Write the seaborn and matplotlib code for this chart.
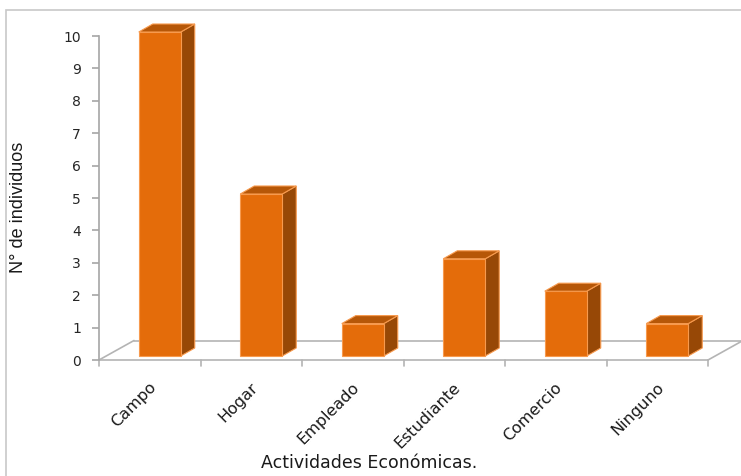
import matplotlib
matplotlib.use("Agg")
import matplotlib.pyplot as plt
from matplotlib.patches import Polygon, Rectangle
import seaborn as sns
import pandas as pd

actividades = ["Campo", "Hogar", "Empleado", "Estudiante", "Comercio", "Ninguno"]
individuos = [10, 5, 1, 3, 2, 1]
y_ticks = list(range(0, 11))

FRONT = "#E46C0A"
TOP = "#B65708"
SIDE = "#974806"
EDGE = "#F79A4E"
AXIS_GRAY = "#A6A6A6"

sns.set_style("white")
plt.rcParams["font.family"] = ["DejaVu Sans"]

W, H = 741, 476
fig = plt.figure(figsize=(W / 100, H / 100), dpi=100)

# plot area in pixel terms: x=-0.5 at px 99, 101.5 px per category;
# y=0 at py 360, 32.4 px per unit
px_per_x, px_per_y = 101.5, 32.4
left_px, right_px, top_py, bot_py = 99, 740, 20, 370
ax = fig.add_axes([left_px / W, 1 - bot_py / H,
                   (right_px - left_px) / W, (bot_py - top_py) / H])
x_lo = -0.5
x_hi = x_lo + (right_px - left_px) / px_per_x
y_lo = (360 - bot_py) / px_per_y
y_hi = (360 - top_py) / px_per_y

df = pd.DataFrame({"actividad": actividades, "n": individuos})
sns.barplot(data=df, x="actividad", y="n", color=FRONT, saturation=1,
            width=42 / px_per_x, ax=ax, zorder=3)
ax.set_xlim(x_lo, x_hi)
ax.set_ylim(y_lo, y_hi)

# bars sit inside the 3D floor: shift front faces back, then add side/top
shift_x, shift_y = 10 / px_per_x, 4 / px_per_y
dep_x, dep_y = 14 / px_per_x, 8 / px_per_y
for p in ax.patches:
    p.set_x(p.get_x() + shift_x)
    p.set_y(p.get_y() + shift_y)
    p.set_edgecolor(EDGE)
    p.set_linewidth(0.8)
    x0 = p.get_x()
    x1 = x0 + p.get_width()
    y0 = p.get_y()
    y1 = y0 + p.get_height()
    side = Polygon([(x1, y0), (x1 + dep_x, y0 + dep_y), (x1 + dep_x, y1 + dep_y), (x1, y1)],
                   closed=True, facecolor=SIDE, edgecolor=EDGE, linewidth=0.8, zorder=2.9)
    top = Polygon([(x0, y1), (x1, y1), (x1 + dep_x, y1 + dep_y), (x0 + dep_x, y1 + dep_y)],
                  closed=True, facecolor=TOP, edgecolor=EDGE, linewidth=0.8, zorder=3.1)
    ax.add_patch(side)
    ax.add_patch(top)

# floor of the 3D box
n = len(actividades)
fx0, fx1 = -0.5, n - 0.5
bdx, bdy = 35 / px_per_x, 19.5 / px_per_y
floor_kw = dict(color="#B4B4B4", lw=1.2, clip_on=False, zorder=1)
ax.plot([fx0, fx1], [0, 0], **floor_kw)
ax.plot([fx0 + bdx, fx1 + bdx], [bdy, bdy], **floor_kw)
ax.plot([fx0, fx0 + bdx], [0, bdy], **floor_kw)
ax.plot([fx1, fx1 + bdx], [0, bdy], **floor_kw)
for b in range(n + 1):
    ax.plot([b - 0.5, b - 0.5], [0, -6 / px_per_y], **floor_kw)

# y axis
for s in ["top", "right", "bottom"]:
    ax.spines[s].set_visible(False)
ax.spines["left"].set_bounds(0, 10)
ax.spines["left"].set_color(AXIS_GRAY)
ax.spines["left"].set_linewidth(1.2)
ax.set_yticks(y_ticks)
ax.tick_params(axis="y", length=5, width=1.2, color=AXIS_GRAY, pad=8,
               labelsize=10, labelcolor="#262626", left=True)
ax.set_xticks([])
ax.set_xlabel("")
ax.set_ylabel("")

# category labels
for i, lab in enumerate(actividades):
    ax.text(i + 4 / px_per_x, -25 / px_per_y, lab, rotation=45, ha="right", va="center",
            rotation_mode="anchor", fontsize=11.5, color="#1a1a1a", clip_on=False)

fig.text(19 / W, 1 - 207 / H, "N° de individuos", rotation=90, ha="center", va="center",
         fontsize=13, color="#1a1a1a", family=["Liberation Sans", "DejaVu Sans"])
fig.text(369 / W, 1 - 463 / H, "Actividades Económicas.", ha="center", va="center",
         fontsize=12.5, color="#1a1a1a")

# chart frame
fig.patches.append(Rectangle((6 / W, -0.1), 1.2, 1 - 9.5 / H + 0.1, transform=fig.transFigure,
                             fill=False, edgecolor="#C8C8C8", linewidth=1.2))

fig.savefig("out.png", dpi=100)
